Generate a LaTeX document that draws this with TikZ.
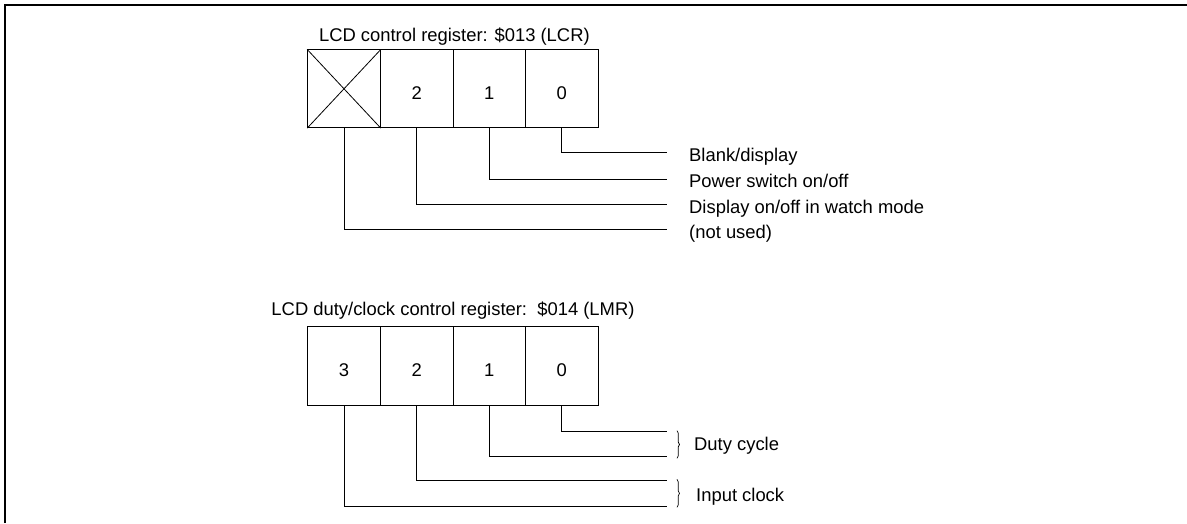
\documentclass[tikz,border=0pt]{standalone}
\usepackage{fontspec}
\setmainfont{Liberation Sans}
\usetikzlibrary{decorations.pathreplacing}
\begin{document}
\begin{tikzpicture}[x=1pt,y=-1pt,
  font=\fontsize{18.4}{22}\selectfont,
  bitbox/.style={draw,line width=1pt,rectangle,inner sep=0pt,minimum width=72.6pt,text height=20.4pt,text depth=0pt},
  conn/.style={line width=1pt},
  lbl/.style={anchor=base west,inner sep=0pt},
  ttl/.style={anchor=base,inner sep=0pt},
  brc/.style={line width=0.7pt,decorate,decoration={brace,amplitude=2.5pt}}]
\useasboundingbox (0,0) rectangle (1187,523);
\draw[line width=2pt] (5,523) -- (5,5) -- (1187,5);

% --- LCR ---
\node[ttl] (t1) at (454.4,41) {LCD control register: \$013 (LCR)};
\node[bitbox,minimum height=77.7pt] (a3) at (344,88.8) {};
\node[bitbox,minimum height=77.7pt] (a2) at (416.7,88.8) {2};
\node[bitbox,minimum height=77.7pt] (a1) at (489.3,88.8) {1};
\node[bitbox,minimum height=77.7pt] (a0) at (561.7,88.8) {0};
\draw[line width=0.8pt] (a3.north west) -- (a3.south east) (a3.north east) -- (a3.south west);

\coordinate (ae0) at (666.7,152.5);
\coordinate (ae1) at (666.7,179.3);
\coordinate (ae2) at (666.7,204.7);
\coordinate (ae3) at (666.7,229.7);
\draw[conn] (a0.south) |- (ae0);
\draw[conn] (a1.south) |- (ae1);
\draw[conn] (a2.south) |- (ae2);
\draw[conn] (a3.south) |- (ae3);
\node[lbl] (la0) at (689,161) {Blank/display};
\node[lbl] (la1) at (689,187.5) {Power switch on/off};
\node[lbl] (la2) at (689,213) {Display on/off in watch mode};
\node[lbl] (la3) at (689,238) {(not used)};

% --- LMR ---
\node[ttl] (t2) at (453,315) {LCD duty/clock control register:\ \ \$014 (LMR)};
\node[bitbox,minimum height=79pt] (b3) at (344,366.2) {3};
\node[bitbox,minimum height=79pt] (b2) at (416.7,366.2) {2};
\node[bitbox,minimum height=79pt] (b1) at (489.3,366.2) {1};
\node[bitbox,minimum height=79pt] (b0) at (561.7,366.2) {0};

\coordinate (be0) at (666.7,431);
\coordinate (be1) at (666.7,456.7);
\coordinate (be2) at (666.7,480.7);
\coordinate (be3) at (666.7,506);
\draw[conn] (b0.south) |- (be0);
\draw[conn] (b1.south) |- (be1);
\draw[conn] (b2.south) |- (be2);
\draw[conn] (b3.south) |- (be3);

\coordinate (br1a) at (677,430.7);
\coordinate (br1b) at (677,458.3);
\coordinate (br2a) at (677,479.3);
\coordinate (br2b) at (677,507.3);
\draw[brc] (br1a) -- (br1b);
\draw[brc] (br2a) -- (br2b);
\node[lbl] (lb1) at (694,450.7) {Duty cycle};
\node[lbl] (lb2) at (696,501.5) {Input clock};
\end{tikzpicture}
\end{document}
